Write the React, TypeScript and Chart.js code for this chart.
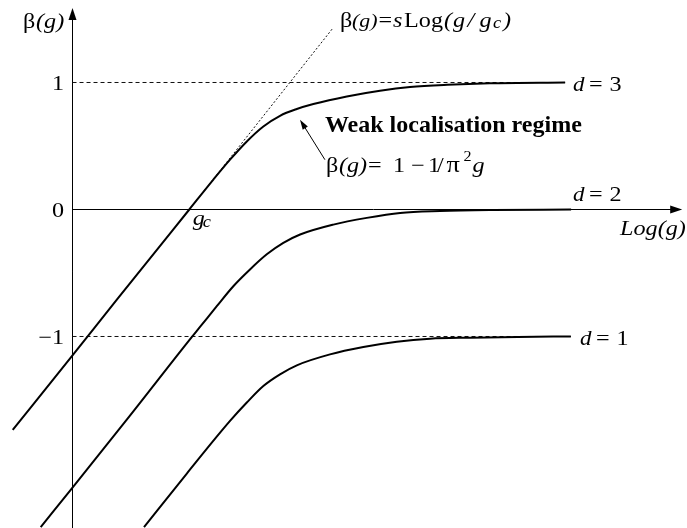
import React, { useEffect, useRef } from "react";
import { Chart, registerables } from "chart.js";

Chart.register(...registerables);

// ---- Data (x = Log(g) in arbitrary units, y = beta(g)) ----
const d3X = [-0.47, 0, 0.35, 0.918, 1.107, 1.238, 1.37, 1.5, 1.631, 1.763, 1.893, 2.156, 2.417, 2.653, 2.944, 3.28, 3.872];
const d3Y = [-1.736, -1.149, -0.708, 0, 0.235, 0.392, 0.536, 0.654, 0.738, 0.791, 0.83, 0.89, 0.935, 0.964, 0.982, 0.994, 1.0];

const d2X = [-0.25, 0, 0.45, 0.937, 1.002, 1.134, 1.264, 1.395, 1.527, 1.657, 1.789, 2.05, 2.313, 2.575, 2.889, 3.3, 3.919];
const d2Y = [-2.501, -2.19, -1.625, -1.005, -0.925, -0.761, -0.604, -0.472, -0.353, -0.263, -0.197, -0.119, -0.066, -0.027, -0.012, -0.004, 0];

const d1X = [0.562, 0.9, 1.238, 1.37, 1.5, 1.631, 1.763, 2.024, 2.286, 2.549, 2.811, 3.125, 3.5, 3.917];
const d1Y = [-2.501, -2.077, -1.665, -1.52, -1.39, -1.298, -1.227, -1.141, -1.083, -1.041, -1.017, -1.009, -1.003, -1.0];

// dashed plateau guides (y = 1 and y = -1)
const guideUpX = [0, 3.872];
const guideUpY = [1, 1];
const guideDownX = [0, 3.917];
const guideDownY = [-1, -1];

// dotted asymptote beta = s Log(g/gc)
const asymX = [0.918, 2.048];
const asymY = [0, 1.43];

const yTickValues = [1, 0, -1];
const yTickLabels = ["1", "0", "\u22121"];
const dimensions = ["3", "2", "1"];
const dimLabelX = [3.934, 3.934, 3.989];
const dimLabelY = [1, 0, -1];
const gcX = 0.918;

const X_MIN = -0.57;
const X_MAX = 4.83;
const Y_MIN = -2.5079;
const Y_MAX = 1.6496;
const AXIS_X_END = 4.792;
const AXIS_Y_END = 1.587;

const FONT = '"Liberation Serif", "Times New Roman", serif';
const SX = 1.15;
const SIZE = 21;

function toPts(xs: number[], ys: number[]) {
  return xs.map((x, i) => ({ x, y: ys[i] }));
}

type Run = { t: string; dx: number; dy?: number; size?: number; style?: string };

function drawText(ctx: CanvasRenderingContext2D, t: string, x: number, y: number, font: string, sx: number, align: CanvasTextAlign = "left") {
  ctx.save();
  ctx.font = font;
  ctx.textAlign = align;
  ctx.textBaseline = "alphabetic";
  ctx.translate(x, y);
  ctx.scale(sx, 1);
  ctx.fillText(t, 0, 0);
  ctx.restore();
}

function drawRuns(ctx: CanvasRenderingContext2D, runs: Run[], x: number, y: number) {
  for (const r of runs) {
    const size = r.size ?? SIZE;
    const style = r.style ?? "normal";
    drawText(ctx, r.t, x + r.dx, y + (r.dy ?? 0), `${style} ${size}px ${FONT}`, SX);
  }
}

const overlay = {
  id: "overlay",
  beforeDatasetsDraw(chart: any) {
    const ctx: CanvasRenderingContext2D = chart.ctx;
    const xs = chart.scales.x;
    const ys = chart.scales.y;
    const ax = Math.floor(xs.getPixelForValue(0)) + 0.5;
    const ay = Math.floor(ys.getPixelForValue(0)) + 0.5;
    const xEnd = xs.getPixelForValue(AXIS_X_END);
    const yTop = ys.getPixelForValue(AXIS_Y_END);
    ctx.save();
    ctx.strokeStyle = "#000";
    ctx.fillStyle = "#000";
    ctx.lineWidth = 1;
    // y axis
    ctx.beginPath();
    ctx.moveTo(ax, chart.height);
    ctx.lineTo(ax, yTop + 8);
    ctx.stroke();
    ctx.beginPath();
    ctx.moveTo(ax, yTop);
    ctx.lineTo(ax - 4, yTop + 12);
    ctx.lineTo(ax + 4, yTop + 12);
    ctx.closePath();
    ctx.fill();
    // x axis
    ctx.beginPath();
    ctx.moveTo(ax, ay);
    ctx.lineTo(xEnd - 8, ay);
    ctx.stroke();
    ctx.beginPath();
    ctx.moveTo(xEnd, ay);
    ctx.lineTo(xEnd - 12, ay - 4);
    ctx.lineTo(xEnd - 12, ay + 4);
    ctx.closePath();
    ctx.fill();
    ctx.restore();
  },
  afterDatasetsDraw(chart: any) {
    const ctx: CanvasRenderingContext2D = chart.ctx;
    const xs = chart.scales.x;
    const ys = chart.scales.y;
    const px = (v: number) => xs.getPixelForValue(v);
    const py = (v: number) => ys.getPixelForValue(v);
    ctx.save();
    ctx.fillStyle = "#000";
    ctx.strokeStyle = "#000";

    // y axis title beta(g)
    drawRuns(ctx, [
      { t: "\u03b2", dx: 0 },
      { t: "(g)", dx: 13, style: "italic" },
    ], px(-0.389), py(1.43));

    // tick labels
    yTickValues.forEach((v, i) => {
      drawText(ctx, yTickLabels[i], px(0) - 8.5, py(v) + 8, `${SIZE}px ${FONT}`, SX, "right");
    });

    // g_c label
    drawRuns(ctx, [
      { t: "g", dx: 0, style: "italic" },
      { t: "c", dx: 10, dy: 2, size: 16, style: "italic" },
    ], px(gcX) + 3.5, py(0) + 16);

    // Log(g)
    drawRuns(ctx, [{ t: "Log(g)", dx: 0, style: "italic" }], px(4.304), py(0) + 26);

    // d labels
    dimensions.forEach((d, i) => {
      const off = dimLabelY[i] === 0 ? -8 : 8.5;
      drawRuns(ctx, [
        { t: "d", dx: 0, style: "italic", size: 20 },
        { t: "=", dx: 16 },
        { t: d, dx: 36.5 },
      ], px(dimLabelX[i]), py(dimLabelY[i]) + off);
    });

    // asymptote formula
    drawRuns(ctx, [
      { t: "\u03b2", dx: 0 },
      { t: "(g)", dx: 12, style: "italic", size: 19 },
      { t: "=", dx: 38.5 },
      { t: "s", dx: 53, style: "italic" },
      { t: "Log", dx: 64 },
      { t: "(", dx: 104, style: "italic" },
      { t: "g", dx: 113, style: "italic" },
      { t: "/", dx: 127.5, style: "italic" },
      { t: "g", dx: 139.5, style: "italic" },
      { t: "c", dx: 153, dy: 1, size: 16, style: "italic" },
      { t: ")", dx: 163, style: "italic" },
    ], px(2.103), py(1.438));

    // weak localisation text
    drawText(ctx, "Weak localisation regime", px(1.984), py(0.612), `bold 24px ${FONT}`, 1);

    drawRuns(ctx, [
      { t: "\u03b2", dx: 0 },
      { t: "(g)", dx: 13, style: "italic" },
      { t: "=", dx: 42 },
      { t: "1", dx: 67 },
      { t: "\u2212", dx: 85 },
      { t: "1", dx: 102 },
      { t: "/", dx: 111 },
      { t: "\u03c0", dx: 120.5, size: 23 },
      { t: "2", dx: 137.5, dy: -10.5, size: 14 },
      { t: "g", dx: 146.5, style: "italic" },
    ], px(1.992), py(0.298));

    // annotation arrow
    const tx = px(1.788), ty = py(0.707);
    const sx0 = px(1.984), sy0 = py(0.392);
    const ang = Math.atan2(ty - sy0, tx - sx0);
    ctx.lineWidth = 1;
    ctx.beginPath();
    ctx.moveTo(sx0, sy0);
    ctx.lineTo(tx - 7 * Math.cos(ang), ty - 7 * Math.sin(ang));
    ctx.stroke();
    ctx.beginPath();
    ctx.moveTo(tx, ty);
    ctx.lineTo(tx - 10 * Math.cos(ang) + 3 * Math.sin(ang), ty - 10 * Math.sin(ang) - 3 * Math.cos(ang));
    ctx.lineTo(tx - 10 * Math.cos(ang) - 3 * Math.sin(ang), ty - 10 * Math.sin(ang) + 3 * Math.cos(ang));
    ctx.closePath();
    ctx.fill();
    ctx.restore();
  },
};

export default function App() {
  const ref = useRef<HTMLCanvasElement | null>(null);
  useEffect(() => {
    document.body.style.margin = "0";
    const canvas = ref.current;
    if (!canvas) return;
    const curve = (label: string, xs: number[], ys: number[]) => ({
      label,
      data: toPts(xs, ys),
      borderColor: "#000",
      borderWidth: 2,
      pointRadius: 0,
      fill: false,
      cubicInterpolationMode: "monotone" as const,
      order: 0,
    });
    const guide = (label: string, xs: number[], ys: number[], dash: number[]) => ({
      label,
      data: toPts(xs, ys),
      borderColor: "#111",
      borderWidth: 1,
      borderDash: dash,
      pointRadius: 0,
      fill: false,
      tension: 0,
      order: 1,
    });
    const chart = new Chart(canvas, {
      type: "line",
      data: {
        datasets: [
          curve("d = 3", d3X, d3Y),
          curve("d = 2", d2X, d2Y),
          curve("d = 1", d1X, d1Y),
          guide("beta = 1", guideUpX, guideUpY, [4, 3]),
          guide("beta = -1", guideDownX, guideDownY, [4, 3]),
          guide("asymptote", asymX, asymY, [2, 2]),
        ] as any,
      },
      options: {
        animation: false,
        responsive: false,
        maintainAspectRatio: false,
        layout: { padding: 0 },
        plugins: { legend: { display: false }, tooltip: { enabled: false } },
        scales: {
          x: { type: "linear", min: X_MIN, max: X_MAX, display: false },
          y: { type: "linear", min: Y_MIN, max: Y_MAX, display: false },
        },
      },
      plugins: [overlay],
    });
    return () => chart.destroy();
  }, []);
  return (
    <div style={{ width: 687, height: 528, background: "#fff" }}>
      <canvas ref={ref} width={687} height={528} style={{ display: "block" }} />
    </div>
  );
}
